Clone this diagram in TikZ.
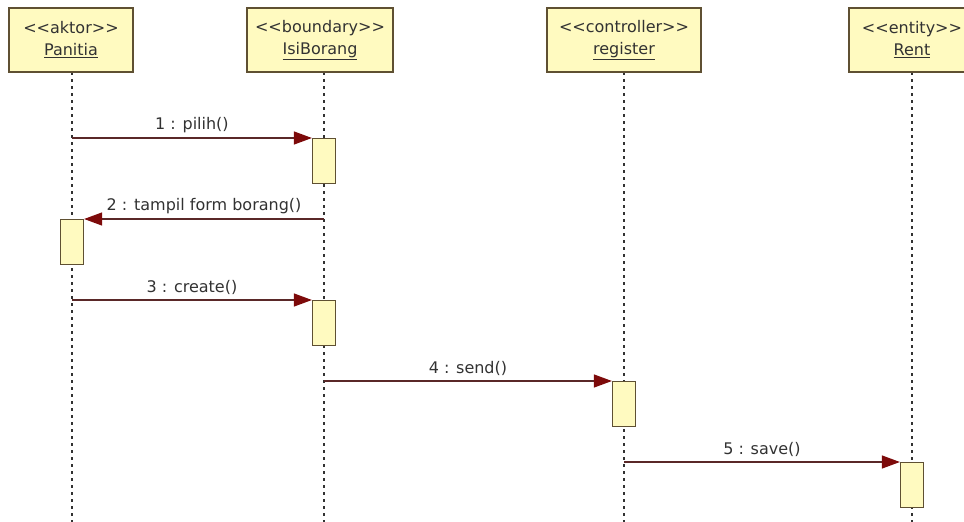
\documentclass[tikz,border=0pt]{standalone}
\usepackage{fontspec}
\newfontfamily\umlfont{DejaVu Sans}
\usepackage{tikz}
\usetikzlibrary{arrows.meta,positioning}

\definecolor{boxfill}{RGB}{255,250,192}
\definecolor{boxline}{RGB}{95,80,50}
\definecolor{lifegray}{RGB}{50,50,50}
\definecolor{msgline}{RGB}{90,40,40}
\definecolor{headred}{RGB}{125,10,10}
\definecolor{txt}{RGB}{50,50,50}

\begin{document}
\begin{tikzpicture}[x=1pt,y=-1pt,font=\umlfont\fontsize{16}{22}\selectfont,
head/.style={draw=boxline, line width=1.6pt, fill=boxfill, minimum width=#1, minimum height=64pt, align=center, inner sep=0pt, text=txt},
act/.style={draw=boxline, line width=1.2pt, fill=boxfill, minimum width=23pt, minimum height=45pt, inner sep=0pt, anchor=north},
life/.style={draw=lifegray, line width=2pt, dash pattern=on 2.5pt off 4.5pt},
msg/.style={draw=msgline, line width=1.2pt, -{Triangle[length=18pt,width=13pt,color=headred]}},
lbl/.style={text=txt, above=1pt}]

    \useasboundingbox (0,0) rectangle (964,522);
    \clip (0,0) rectangle (964,522);

    % lifelines
    \coordinate (panl) at (72,72);
    \coordinate (isil) at (324,72);
    \coordinate (regl) at (624,72);
    \coordinate (rentl) at (912,72);
    \draw[life] (panl) -- (panl |- 0,522);
    \draw[life] (isil) -- (isil |- 0,522);
    \draw[life] (regl) -- (regl |- 0,522);
    \draw[life] (rentl) -- (rentl |- 0,522);

    % heads
    \node[head=124pt] (pan) at (71,40) {<<aktor>>\\\underline{Panitia}};
    \node[head=146pt] (isi) at (320,40) {<<boundary>>\\\underline{IsiBorang}};
    \node[head=154pt] (reg) at (624,40) {<<controller>>\\\underline{register}};
    \node[head=126pt] (rent) at (912,40) {<<entity>>\\\underline{Rent}};

    % activations
    \node[act] (a1) at (isil |- 0,138) {};
    \node[act] (a2) at (panl |- 0,219) {};
    \node[act] (a3) at (isil |- 0,300) {};
    \node[act] (a4) at (regl |- 0,381) {};
    \node[act] (a5) at (rentl |- 0,462) {};

    % messages
    \coordinate (s1) at (panl |- a1.north);
    \coordinate (s2) at (isil |- a2.north);
    \coordinate (s3) at (panl |- a3.north);
    \coordinate (s4) at (isil |- a4.north);
    \coordinate (s5) at (regl |- a5.north);
    \draw[msg] (s1) -- node[lbl] {1 : pilih()} (a1.north west);
    \draw[msg] (s2) -- node[lbl] {2 : tampil form borang()} (a2.north east);
    \draw[msg] (s3) -- node[lbl] {3 : create()} (a3.north west);
    \draw[msg] (s4) -- node[lbl] {4 : send()} (a4.north west);
    \draw[msg] (s5) -- node[lbl] {5 : save()} (a5.north west);
\end{tikzpicture}
\end{document}
